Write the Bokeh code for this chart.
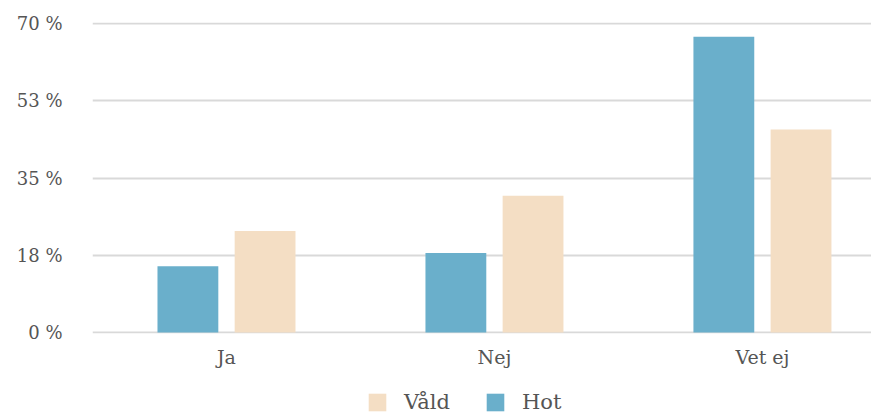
from bokeh.plotting import figure
from bokeh.layouts import column
from bokeh.models import ColumnDataSource, Range1d, FixedTicker, Legend, LegendItem
from bokeh.embed import file_html
from bokeh.resources import INLINE

# Survey answers by category, share in percent
categories = ["Ja", "Nej", "Vet ej"]
hot = [15, 18, 67]
vald = [23, 31, 46]

y_ticks = [0, 17.5, 35, 52.5, 70]
y_tick_labels = ["0 %", "18 %", "35 %", "53 %", "70 %"]

HOT_COLOR = "#6aafcb"
VALD_COLOR = "#f4dec4"
TEXT_COLOR = "#555555"
FONT = "DejaVu Serif"

centers = [i + 0.5 for i in range(len(categories))]
bar_w = 0.227
offset = 0.144

src_hot = ColumnDataSource(dict(x=[c - offset for c in centers], top=hot))
src_vald = ColumnDataSource(dict(x=[c + offset for c in centers], top=vald))

p = figure(width=871, height=370, output_backend="svg", toolbar_location=None,
           x_range=Range1d(0, 2.907), y_range=Range1d(-0.25, 70.25),
           min_border_left=92, min_border_right=0, min_border_top=22,
           min_border_bottom=36)
p.outline_line_color = None
p.background_fill_color = "white"
p.border_fill_color = "white"

p.vbar(x="x", top="top", bottom=0, width=bar_w, source=src_hot,
       fill_color=HOT_COLOR, line_color=None)
p.vbar(x="x", top="top", bottom=0, width=bar_w, source=src_vald,
       fill_color=VALD_COLOR, line_color=None)

# Axes
p.xaxis.ticker = FixedTicker(ticks=centers)
p.xaxis.major_label_overrides = {c: lab for c, lab in zip(centers, categories)}
p.xaxis.axis_line_color = None
p.xaxis.major_tick_line_color = None
p.xaxis.minor_tick_line_color = None
p.xaxis.major_label_standoff = 6
p.xaxis.major_label_text_font = FONT
p.xaxis.major_label_text_font_size = "19px"
p.xaxis.major_label_text_color = TEXT_COLOR

p.yaxis.ticker = FixedTicker(ticks=y_ticks)
p.yaxis.major_label_overrides = {t: lab for t, lab in zip(y_ticks, y_tick_labels)}
p.yaxis.axis_line_color = None
p.yaxis.major_tick_line_color = None
p.yaxis.minor_tick_line_color = None
p.yaxis.major_label_standoff = 24
p.yaxis.major_label_text_font = FONT
p.yaxis.major_label_text_font_size = "18px"
p.yaxis.major_label_text_color = TEXT_COLOR

p.xgrid.grid_line_color = None
p.ygrid.grid_line_color = "#d9d9d9"
p.ygrid.grid_line_width = 2

# Legend strip under the chart; the swatch glyphs sit outside the visible range
lg = figure(width=871, height=44, output_backend="svg", toolbar_location=None,
            x_range=Range1d(0, 1), y_range=Range1d(0, 1),
            min_border=0, outline_line_color=None)
lg.axis.visible = False
lg.grid.visible = False
sw_vald = lg.vbar(x=[-5], top=[-5], bottom=-6, width=0.1,
                  fill_color=VALD_COLOR, line_color=None)
sw_hot = lg.vbar(x=[-5], top=[-5], bottom=-6, width=0.1,
                 fill_color=HOT_COLOR, line_color=None)
legend = Legend(items=[LegendItem(label="Våld", renderers=[sw_vald]),
                       LegendItem(label="Hot", renderers=[sw_hot])],
                orientation="horizontal", location=(274, 0),
                glyph_width=22, glyph_height=22, spacing=34,
                label_text_font=FONT, label_text_font_size="21px",
                label_text_color=TEXT_COLOR, border_line_color=None,
                background_fill_alpha=0, padding=4, margin=0,
                label_standoff=16)
lg.add_layout(legend)

layout = column(p, lg, spacing=0)
open("out.html", "w").write(file_html(layout, INLINE))
